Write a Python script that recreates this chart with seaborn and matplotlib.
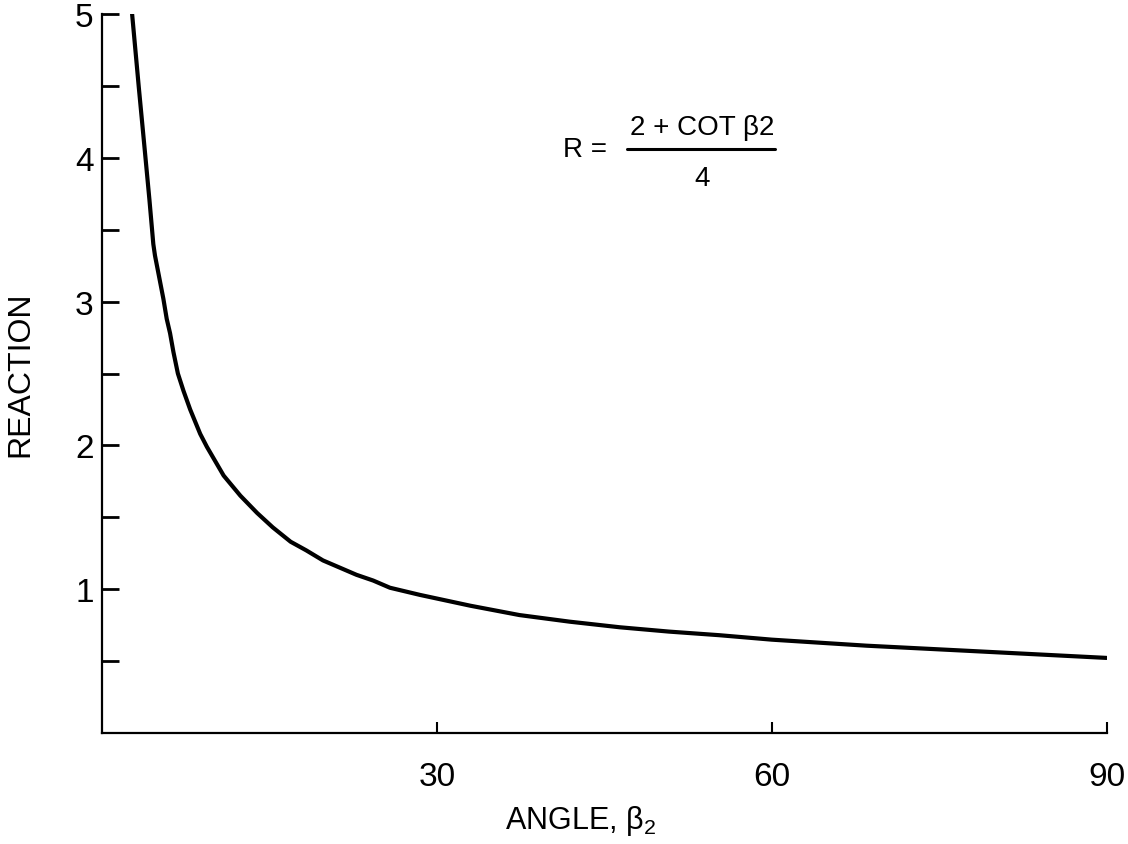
import matplotlib
matplotlib.use('Agg')
import matplotlib.pyplot as plt
import seaborn as sns
import pandas as pd

# values
angle = [2.7, 3.3, 3.85, 4.25, 4.6, 4.75, 5.5, 5.8, 6.1, 6.4, 6.8, 7.3, 7.9,
         8.8, 9.4, 10.9, 12.4, 13.9, 15.3, 16.9, 18.3, 19.8, 21.3, 22.8,
         24.3, 25.8, 28.5, 33.0, 37.4, 41.9, 46.4, 50.8, 55.3, 60.0, 68.5,
         77.4, 90.0]
reaction = [5.0, 4.49, 4.04, 3.71, 3.40, 3.32, 3.02, 2.88, 2.78, 2.65, 2.50,
            2.38, 2.25, 2.08, 1.99, 1.79, 1.65, 1.53, 1.43, 1.33, 1.27, 1.20,
            1.15, 1.10, 1.06, 1.01, 0.96, 0.885, 0.82, 0.774, 0.735, 0.705,
            0.68, 0.649, 0.607, 0.572, 0.522]

x_ticks = [30, 60, 90]
x_ticklabels = ['30', '60', '90']
y_ticks = [0.5, 1, 1.5, 2, 2.5, 3, 3.5, 4, 4.5, 5]
y_ticklabels = ['', '1', '', '2', '', '3', '', '4', '', '5']

df = pd.DataFrame({'angle': angle, 'reaction': reaction})

sns.set_style('ticks')
plt.rcParams['font.family'] = ['Liberation Sans', 'DejaVu Sans']
plt.rcParams['mathtext.fontset'] = 'custom'
plt.rcParams['mathtext.rm'] = 'Liberation Sans'
plt.rcParams['mathtext.it'] = 'Liberation Sans'
plt.rcParams['mathtext.bf'] = 'Liberation Sans'

fig = plt.figure(figsize=(11.28, 8.45), dpi=100)
ax = fig.add_axes([0.0904, 0.1314, 0.8906, 0.8508])

sns.lineplot(data=df, x='angle', y='reaction', color='black', linewidth=3,
             errorbar=None, ax=ax, solid_joinstyle='round',
             solid_capstyle='round')

ax.set_xlim(0, 90)
ax.set_ylim(0, 5)
sns.despine(ax=ax)
for s in ['left', 'bottom']:
    ax.spines[s].set_linewidth(1.6)
    ax.spines[s].set_color('black')

ax.set_xticks(x_ticks)
ax.set_xticklabels(x_ticklabels)
ax.set_yticks(y_ticks)
ax.set_yticklabels(y_ticklabels)
ax.tick_params(axis='x', direction='in', length=8, width=1.5, pad=20,
               labelsize=24, colors='black')
ax.tick_params(axis='y', direction='in', length=12, width=2, pad=6,
               labelsize=24, colors='black')

ax.set_xlabel(r'ANGLE, β$_{2}$', fontsize=22, color='black')
ax.xaxis.set_label_coords(0.476, -0.097)
ax.set_ylabel('REACTION', fontsize=23, color='black')
ax.yaxis.set_label_coords(-0.066, 0.5)

# formula
ax.text(0.481, 0.812, 'R =', transform=ax.transAxes, fontsize=20,
        ha='center', va='center', color='black')
ax.text(0.597, 0.843, '2 + COT β2', transform=ax.transAxes, fontsize=20,
        ha='center', va='center', color='black')
ax.plot([0.523, 0.670], [0.812, 0.812], transform=ax.transAxes,
        color='black', linewidth=2.2)
ax.text(0.597, 0.772, '4', transform=ax.transAxes, fontsize=20,
        ha='center', va='center', color='black')

fig.savefig('out.png', dpi=100)
